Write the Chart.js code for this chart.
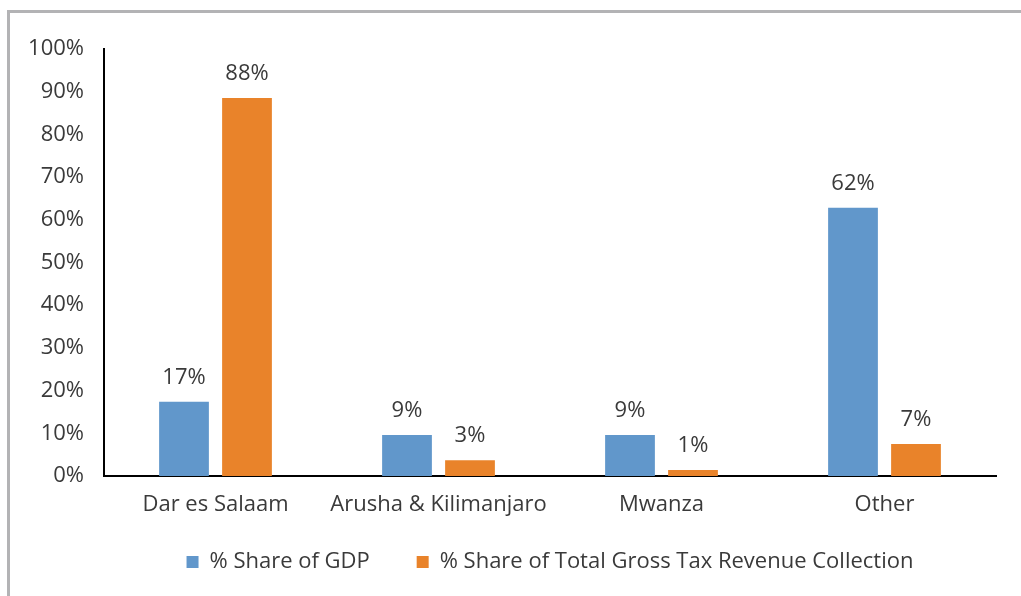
<!DOCTYPE html>
<html>
<head>
<meta charset="utf-8">
<script src="https://cdn.jsdelivr.net/npm/chart.js@4.4.0/dist/chart.umd.min.js"></script>
<style>
  html, body { margin: 0; padding: 0; background: #fff; overflow: hidden; }
  #frame {
    position: absolute; left: 7px; top: 10px; width: 1100px; height: 700px;
    border-top: 3px solid #b3b3b5; border-left: 3px solid #b3b3b5;
  }
  #wrap { position: absolute; left: 0; top: 0; width: 1021px; height: 596px; }
</style>
</head>
<body>
<div id="frame"></div>
<div id="wrap"><canvas id="grafico" width="1021" height="596"></canvas></div>
<script>
var regiones = ['Dar es Salaam', 'Arusha & Kilimanjaro', 'Mwanza', 'Other'];
var share_gdp = [17.4, 9.6, 9.6, 62.8];
var share_tax = [88.5, 3.7, 1.4, 7.5];
var nombre_gdp = '% Share of GDP';
var nombre_tax = '% Share of Total Gross Tax Revenue Collection';

var fuente = '"Open Sans", "Noto Sans", sans-serif';
var gris = '#3a3a3a';

// etiquetas de porcentaje encima de cada barra
var etiquetas = {
    id: 'etiquetas',
    afterDatasetsDraw(chart) {
        var c = chart.ctx;
        c.save();
        c.font = '22px ' + fuente;
        c.fillStyle = gris;
        c.textAlign = 'center';
        c.textBaseline = 'bottom';
        chart.data.datasets.forEach((ds, i) => {
            chart.getDatasetMeta(i).data.forEach((bar, j) => {
                c.fillText(Math.floor(ds.data[j]) + '%', bar.x, bar.y - 13);
            });
        });
        c.restore();
    }
};

var ctx = document.getElementById('grafico').getContext('2d');
var chart_regiones = new Chart(ctx, {
    type: 'bar',
    data: {
        labels: regiones,
        datasets: [{
            label: nombre_gdp,
            data: share_gdp,
            backgroundColor: '#6197cb',
            categoryPercentage: 0.565,
            barPercentage: 0.79
        }, {
            label: nombre_tax,
            data: share_tax,
            backgroundColor: '#e9832a',
            categoryPercentage: 0.565,
            barPercentage: 0.79
        }]
    },
    options: {
        responsive: false,
        animation: false,
        layout: { padding: { top: 49, right: 25, bottom: 13, left: 0 } },
        scales: {
            x: {
                grid: { display: false },
                border: { display: true, color: '#000', width: 2 },
                ticks: { color: gris, font: { family: fuente, size: 22 }, padding: 8 },
                afterFit: function (s) { s.height = 51; }
            },
            y: {
                min: 0,
                max: 100,
                grid: { display: false },
                border: { display: true, color: '#000', width: 2 },
                ticks: {
                    stepSize: 10,
                    color: gris,
                    padding: 12,
                    font: { family: fuente, size: 22 },
                    callback: function (v) { return v + '%'; }
                },
                afterFit: function (s) { s.width = 104; }
            }
        },
        plugins: {
            legend: {
                position: 'bottom',
                fullSize: false,
                labels: {
                    boxWidth: 12,
                    boxHeight: 12,
                    padding: 24,
                    color: gris,
                    font: { family: fuente, size: 22 },
                    // separación extra entre las dos entradas
                    generateLabels: function (chart) {
                        var items = Chart.defaults.plugins.legend.labels.generateLabels(chart);
                        items[0].text = items[0].text + '    ';
                        return items;
                    }
                }
            },
            tooltip: { enabled: false }
        }
    },
    plugins: [etiquetas]
});
</script>
</body>
</html>
